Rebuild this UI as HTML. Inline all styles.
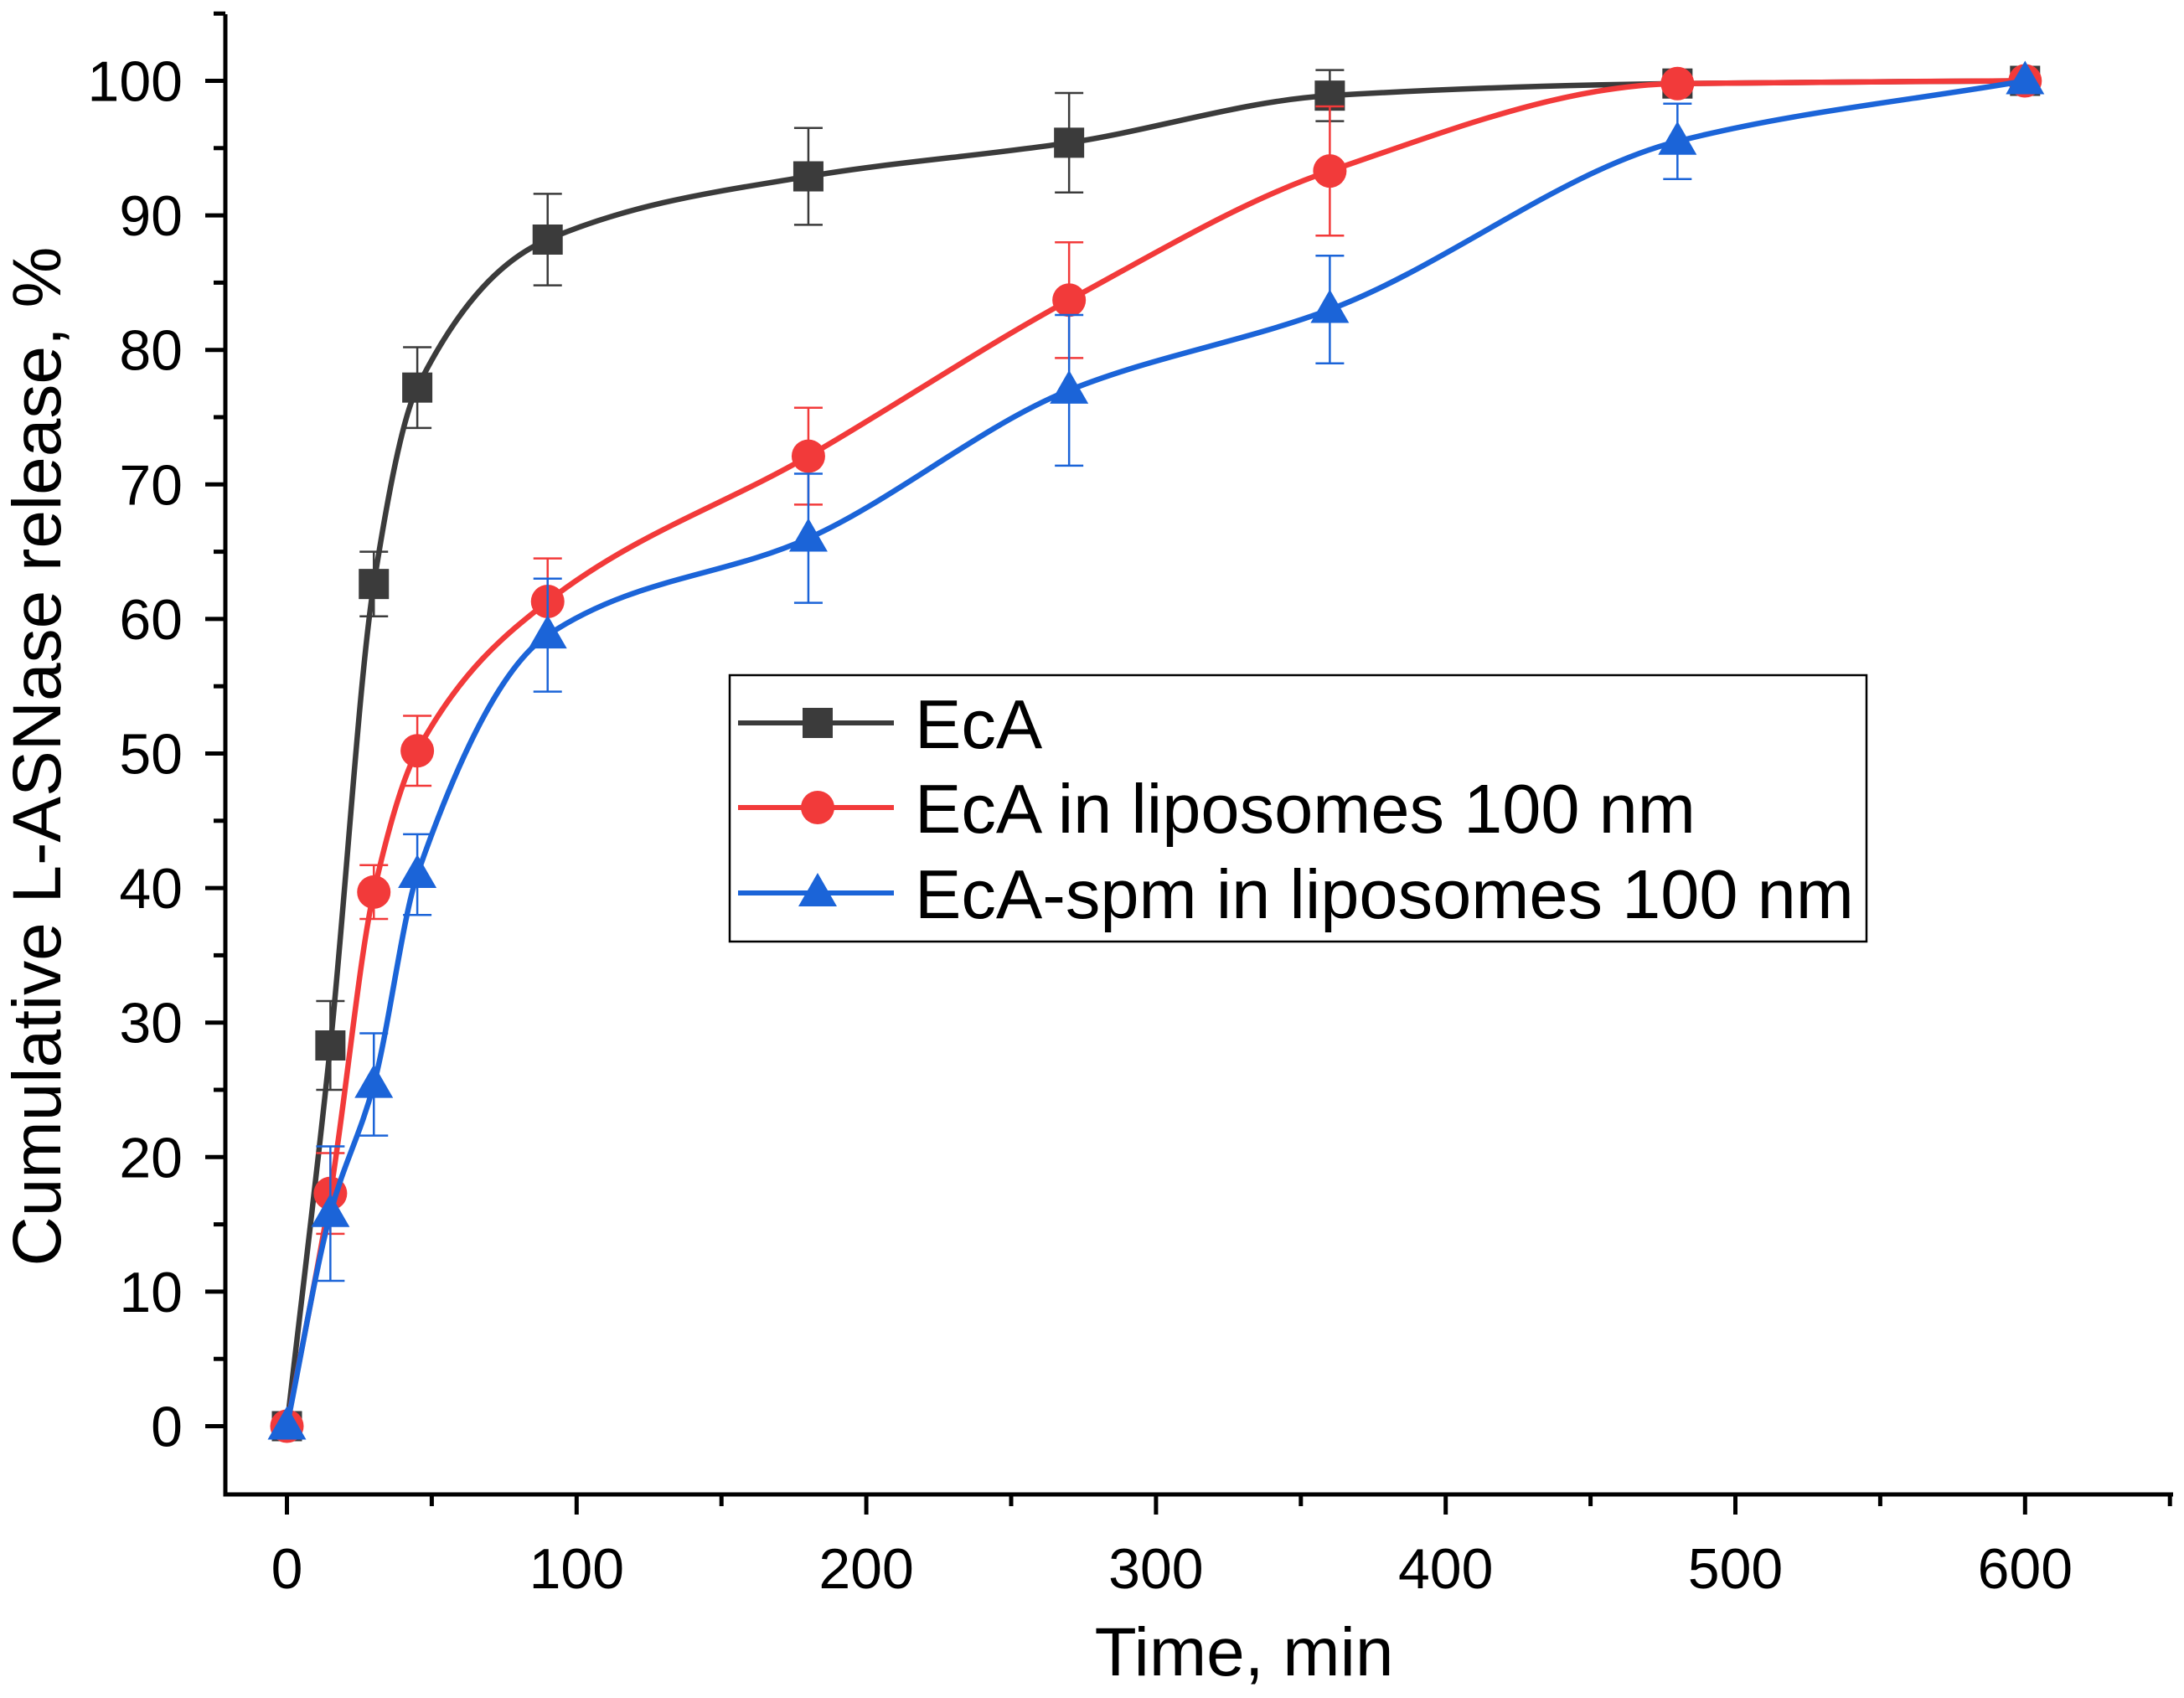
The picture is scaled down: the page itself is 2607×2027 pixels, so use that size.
<!DOCTYPE html>
<html><head><meta charset="utf-8"><style>
html,body{margin:0;padding:0;background:#fff}
svg{display:block;font-family:"Liberation Sans",Arial,sans-serif}
</style></head><body>
<svg id="chart" width="2607" height="2027" viewBox="0 0 2607 2027" xmlns="http://www.w3.org/2000/svg">
<rect width="2607" height="2027" fill="#fff"/>
</svg>
<script>
const times=[0,15,30,45,90,180,270,360,480,600];
const ecaValues=[0,28.3,62.6,77.2,88.2,92.9,95.4,98.9,99.8,100];
const ecaErrors=[0,3.3,2.4,3,3.4,3.6,3.7,1.9,0.5,0];
const lipoValues=[0,17.3,39.7,50.2,61.3,72.1,83.7,93.3,99.8,100];
const lipoErrors=[0,3,2,2.6,3.2,3.6,4.3,4.8,0.5,0];
const spmValues=[0,15.8,25.4,41,58.8,66,77,83,95.5,100];
const spmErrors=[0,5,3.8,3,4.2,4.8,5.6,4,2.8,0];
const xTicks=[0,100,200,300,400,500,600];
const yTicks=[0,10,20,30,40,50,60,70,80,90,100];
const seriesNames=["EcA","EcA in liposomes 100 nm","EcA-spm in liposomes 100 nm"];

const NS="http://www.w3.org/2000/svg";
const svg=document.getElementById('chart');
const X=t=>342.5+t*3.458;
const Y=v=>1702.5-v*16.06;
function el(tag,attrs,parent){const e=document.createElementNS(NS,tag);for(const k in attrs)e.setAttribute(k,attrs[k]);(parent||svg).appendChild(e);return e;}

const ax=el('path',{d:'M269,17 V1784 H2594',fill:'none',stroke:'#000','stroke-width':5});


for(let v=0;v<=105;v+=5){
  const major=v%10===0;
  const t=el('line',{x1:269,x2:major?245:255,y1:Y(v),y2:Y(v),stroke:'#000','stroke-width':5});
  
  
}
yTicks.forEach(v=>{
  const t=el('text',{x:218,y:Y(v)+24,'text-anchor':'end','font-size':68});
  t.textContent=v;
  
  
});
for(let t=-50;t<=650;t+=50){
  const px=X(t); if(px<269||px>2594) continue;
  const major=t%100===0;
  const l=el('line',{x1:px,x2:px,y1:1784,y2:major?1808:1798,stroke:'#000','stroke-width':5});
  
  
}
xTicks.forEach(t=>{
  const l=el('text',{x:X(t),y:1896,'text-anchor':'middle','font-size':68});
  l.textContent=t;
  
  
});
const xt=el('text',{x:1485,y:2000,'text-anchor':'middle','font-size':82});
xt.textContent='Time, min';


const yt=el('text',{x:0,y:0,'text-anchor':'middle','font-size':82,transform:'translate(72,903) rotate(-90)'});
yt.textContent='Cumulative L-ASNase release, %';



function smooth(pts){
  const n=pts.length,dx=[],sl=[],m=[];
  for(let i=0;i<n-1;i++){dx[i]=pts[i+1][0]-pts[i][0];sl[i]=(pts[i+1][1]-pts[i][1])/dx[i];}
  m[0]=sl[0];m[n-1]=sl[n-2];
  for(let i=1;i<n-1;i++){
    if(sl[i-1]*sl[i]<=0)m[i]=0;
    else{const w1=2*dx[i]+dx[i-1],w2=dx[i]+2*dx[i-1];m[i]=(w1+w2)/(w1/sl[i-1]+w2/sl[i]);}
  }
  let d='M'+pts[0][0]+','+pts[0][1];
  for(let i=0;i<n-1;i++){
    const h=dx[i]/3;
    d+=` C${pts[i][0]+h},${pts[i][1]+m[i]*h} ${pts[i+1][0]-h},${pts[i+1][1]-m[i+1]*h} ${pts[i+1][0]},${pts[i+1][1]}`;
  }
  return d;
}
function marker(shape,x,y,color,parent){
  let m;
  if(shape==='square') m=el('rect',{x:x-18,y:y-18,width:36,height:36,fill:color},parent);
  else if(shape==='circle') m=el('circle',{cx:x,cy:y,r:20,fill:color},parent);
  else m=el('polygon',{points:`${x},${y-24} ${x+23},${y+16} ${x-23},${y+16}`,fill:color},parent);
  return m;
}
const series=[
 {vals:ecaValues,errs:ecaErrors,color:'#3b3b3b',shape:'square',key:'eca'},
 {vals:lipoValues,errs:lipoErrors,color:'#f23a3a',shape:'circle',key:'liposome'},
 {vals:spmValues,errs:spmErrors,color:'#1b64d8',shape:'triangle',key:'spm'}];
series.forEach(s=>{
  const g=el('g',{});
  
  
  const pts=times.map((t,i)=>[X(t),Y(s.vals[i])]);
  const line=el('path',{d:smooth(pts),fill:'none',stroke:s.color,'stroke-width':6.5},g);
  
  
  times.forEach((t,i)=>{
    const e=s.errs[i]; if(!e) return;
    const x=X(t),y1=Y(s.vals[i]+e),y2=Y(s.vals[i]-e);
    const eb=el('path',{d:`M${x},${y1}V${y2}M${x-17},${y1}H${x+17}M${x-17},${y2}H${x+17}`,stroke:s.color,'stroke-width':2.5,fill:'none'},g);
    
    
  });
  times.forEach((t,i)=>{
    const m=marker(s.shape,X(t),Y(s.vals[i]),s.color,g);
    
    
  });
});
const lg=el('g',{});


el('rect',{x:871,y:806,width:1357,height:318,fill:'#fff',stroke:'#000','stroke-width':2.5},lg);
const lys=[863,964,1066];
series.forEach((s,i)=>{
  const eg=el('g',{},lg);
  
  
  el('line',{x1:881,x2:1067,y1:lys[i],y2:lys[i],stroke:s.color,'stroke-width':6},eg);
  marker(s.shape,976,lys[i],s.color,eg);
  const tx=el('text',{x:1092,y:lys[i]+30,'font-size':83},eg);
  tx.textContent=seriesNames[i];
});
</script>
</body></html>
